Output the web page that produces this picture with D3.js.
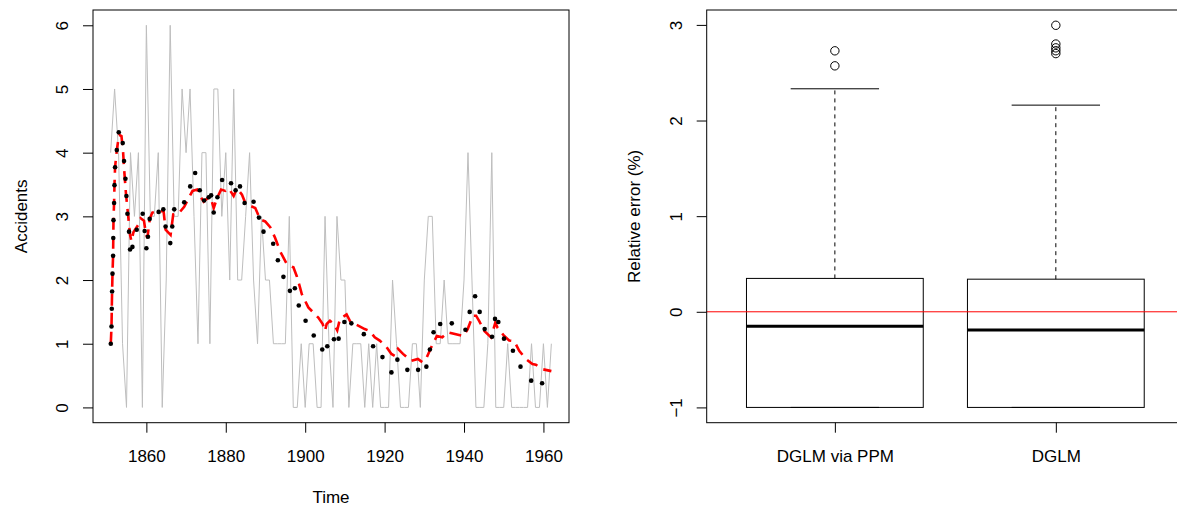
<!DOCTYPE html>
<html lang="en">
<head>
    <meta charset="UTF-8">
    <title>Accidents and relative error</title>
    <script src="https://d3js.org/d3.v7.min.js"></script>
    <style>
        body { margin: 0; padding: 0; background: #fff; }
        svg { display: block; }
        text { font-family: "Liberation Sans", Arial, sans-serif; font-size: 17px; fill: #000; }
    </style>
</head>
<body>
<script>
    // --- left panel: yearly counts 1851-1962
    var years = d3.range(1851, 1963);
    var counts = [4, 5, 4, 1, 0, 4, 3, 4, 0, 6, 3, 3, 4, 0, 2, 6, 3, 3, 5, 4,
        5, 3, 1, 4, 4, 1, 5, 5, 3, 4, 2, 5, 2, 2, 3, 4, 2, 1, 3, 2,
        2, 1, 1, 1, 1, 3, 0, 0, 1, 0, 1, 1, 0, 0, 3, 1, 0, 3, 2, 2,
        0, 1, 1, 1, 0, 1, 0, 1, 0, 0, 0, 2, 1, 0, 0, 0, 1, 1, 0, 2,
        3, 3, 1, 1, 2, 1, 1, 1, 1, 2, 4, 2, 0, 0, 0, 1, 4, 0, 0, 0,
        1, 0, 0, 0, 0, 0, 1, 0, 0, 1, 0, 1];

    // black dots (estimates)
    var dotYears = [1851.04, 1851.22, 1851.29, 1851.37, 1851.47, 1851.62, 1851.67, 1851.72, 1851.87, 1851.97,
        1852.12, 1852.55, 1853.05, 1854.05, 1854.38, 1854.73, 1854.98, 1855.23, 1855.63, 1855.89,
        1856.49, 1857.57, 1859.07, 1859.57, 1860.0, 1860.4, 1860.83, 1863.09, 1864.27, 1864.84,
        1866.02, 1866.52, 1867.02, 1869.53, 1871.04, 1872.29, 1873.45, 1874.55, 1875.7, 1876.31,
        1876.96, 1877.89, 1879.07, 1881.32, 1882.48, 1883.58, 1884.74, 1887.0, 1888.35, 1889.5,
        1891.94, 1893.12, 1894.52, 1896.15, 1897.4, 1898.38, 1900.1, 1902.15, 1904.3, 1905.56,
        1907.24, 1908.42, 1909.87, 1911.63, 1914.77, 1917.1, 1919.46, 1921.72, 1923.22, 1925.73,
        1928.44, 1930.52, 1931.4, 1932.33, 1934.0, 1936.92, 1940.36, 1941.43, 1942.79, 1943.94,
        1945.2, 1947.06, 1947.81, 1948.64, 1950.07, 1952.32, 1954.23, 1956.91, 1959.67];
    var dotValues = [1.0, 1.27, 1.55, 1.82, 2.1, 2.38, 2.66, 2.94, 3.21, 3.49,
        3.77, 4.04, 4.32, 4.15, 3.87, 3.59, 3.32, 3.04, 2.76, 2.48,
        2.52, 2.79, 3.04, 2.77, 2.5, 2.68, 2.96, 3.07, 3.11, 2.84,
        2.58, 2.84, 3.11, 3.22, 3.47, 3.68, 3.41, 3.25, 3.3, 3.33,
        3.06, 3.3, 3.57, 3.52, 3.41, 3.47, 3.21, 3.23, 2.98, 2.76,
        2.57, 2.31, 2.05, 1.83, 1.87, 1.6, 1.36, 1.13, 0.91, 0.96,
        1.07, 1.08, 1.34, 1.32, 1.15, 0.96, 0.79, 0.55, 0.75, 0.59,
        0.59, 0.64, 0.91, 1.18, 1.31, 1.32, 1.22, 1.5, 1.745, 1.5,
        1.23, 1.11, 1.39, 1.34, 1.08, 0.89, 0.64, 0.42, 0.38];

    // red dashed line
    var lineYears = [1851.04, 1851.22, 1851.29, 1851.37, 1851.47, 1851.62, 1851.67, 1851.72, 1851.87, 1851.97,
        1852.12, 1852.55, 1853.13, 1853.73, 1854.13, 1854.38, 1854.88, 1855.38, 1855.89, 1856.24,
        1856.74, 1857.99, 1858.57, 1859.4, 1859.82, 1860.25, 1860.9, 1861.51, 1862.76, 1864.34,
        1864.84, 1866.1, 1866.77, 1868.18, 1869.53, 1870.69, 1871.62, 1872.79, 1873.62, 1874.45,
        1874.88, 1876.13, 1876.96, 1877.81, 1878.82, 1879.89, 1880.72, 1881.98, 1882.83, 1884.08,
        1884.91, 1885.99, 1887.42, 1888.68, 1889.93, 1891.19, 1892.44, 1893.7, 1895.37, 1897.03,
        1897.88, 1898.71, 1899.14, 1900.79, 1902.05, 1903.3, 1904.41, 1904.98, 1905.41, 1906.24,
        1907.24, 1908.07, 1908.75, 1910.43, 1911.26, 1912.51, 1915.0, 1916.26, 1917.51, 1918.77,
        1920.46, 1921.72, 1922.54, 1923.37, 1924.63, 1926.73, 1928.39, 1929.49, 1930.65, 1932.15,
        1933.16, 1934.51, 1935.92, 1937.17, 1939.86, 1940.93, 1942.19, 1943.04, 1943.87, 1945.12,
        1946.8, 1947.88, 1948.46, 1950.14, 1951.39, 1952.65, 1953.9, 1955.58, 1957.24, 1958.09,
        1959.75, 1962.0];
    var lineValues = [1.0, 1.27, 1.55, 1.82, 2.1, 2.38, 2.66, 2.94, 3.21, 3.49,
        3.77, 4.04, 4.28, 4.26, 4.02, 3.76, 3.34, 3.03, 2.71, 2.61,
        2.75, 2.87, 2.97, 2.93, 2.75, 2.66, 2.97, 3.06, 3.08, 3.08,
        2.79, 2.71, 3.03, 3.05, 3.15, 3.29, 3.4, 3.42, 3.31, 3.23,
        3.26, 3.31, 3.13, 3.29, 3.42, 3.4, 3.44, 3.32, 3.44, 3.34,
        3.21, 3.17, 3.13, 2.95, 2.92, 2.83, 2.66, 2.45, 2.25, 2.2,
        2.06, 1.88, 1.78, 1.57, 1.49, 1.41, 1.31, 1.2, 1.31, 1.36,
        1.31, 1.21, 1.39, 1.46, 1.36, 1.31, 1.23, 1.2, 1.1, 1.05,
        0.95, 0.84, 0.81, 0.92, 0.84, 0.73, 0.76, 0.71, 0.79, 1.0,
        1.12, 1.1, 1.18, 1.16, 1.12, 1.23, 1.44, 1.44, 1.35, 1.2,
        1.1, 1.33, 1.25, 1.12, 1.05, 1.04, 0.89, 0.76, 0.68, 0.67,
        0.6, 0.57];

    var yTicksLeft = [0, 1, 2, 3, 4, 5, 6];
    var xTicksLeft = [1860, 1880, 1900, 1920, 1940, 1960];

    // --- right panel: boxplots of relative error
    var boxNames = ["DGLM via PPM", "DGLM"];
    var boxLow = [-1, -1];
    var boxQ1 = [-1, -1];
    var boxMedian = [-0.152, -0.191];
    var boxQ3 = [0.349, 0.341];
    var boxHigh = [2.332, 2.161];
    var outliers = [[2.572, 2.729], [2.70, 2.73, 2.76, 2.80, 2.996]];
    var yTicksRight = [-1, 0, 1, 2, 3];

    var W = 1177, H = 506;
    var svg = d3.select("body").append("svg").attr("width", W).attr("height", H);

    // R-style padding: 4% each side
    function pad(lo, hi) { var d = (hi - lo) * 0.04; return [lo - d, hi + d]; }

    // ---------- left panel ----------
    var L = { left: 93, right: 569, top: 10, bottom: 422.7 };
    var x1 = d3.scaleLinear().domain(pad(1851, 1962)).range([L.left, L.right]);
    var y1 = d3.scaleLinear().domain(pad(0, 6)).range([L.bottom, L.top]);

    var g1 = svg.append("g");
    g1.append("path")
        .datum(years)
        .attr("fill", "none")
        .attr("stroke", "#bebebe")
        .attr("stroke-width", 1)
        .attr("d", d3.line().x(function(d) { return x1(d); })
            .y(function(d, i) { return y1(counts[i]); }));

    g1.append("path")
        .datum(lineYears)
        .attr("fill", "none")
        .attr("stroke", "#ff0000")
        .attr("stroke-width", 2.6)
        .attr("stroke-dasharray", "12,7")
        .attr("d", d3.line().x(function(d) { return x1(d); })
            .y(function(d, i) { return y1(lineValues[i]); }));

    g1.selectAll("circle.dot")
        .data(dotYears)
        .enter().append("circle")
        .attr("class", "dot")
        .attr("cx", function(d) { return x1(d); })
        .attr("cy", function(d, i) { return y1(dotValues[i]); })
        .attr("r", 2.3)
        .attr("fill", "#000");

    g1.append("rect")
        .attr("x", L.left).attr("y", L.top)
        .attr("width", L.right - L.left).attr("height", L.bottom - L.top)
        .attr("fill", "none").attr("stroke", "#000").attr("stroke-width", 1);

    var axL = g1.append("g").attr("transform", "translate(" + L.left + ",0)")
        .call(d3.axisLeft(y1).tickValues(yTicksLeft).tickFormat(d3.format("d")).tickSize(10).tickSizeOuter(0));
    var axB = g1.append("g").attr("transform", "translate(0," + L.bottom + ")")
        .call(d3.axisBottom(x1).tickValues(xTicksLeft).tickFormat(d3.format("d")).tickSize(10).tickSizeOuter(0).tickPadding(17));

    g1.append("text")
        .attr("transform", "translate(" + (L.left - 66.5) + "," + ((L.top + L.bottom) / 2) + ") rotate(-90)")
        .attr("text-anchor", "middle")
        .text("Accidents");
    g1.append("text")
        .attr("x", (L.left + L.right) / 2).attr("y", L.bottom + 80.6)
        .attr("text-anchor", "middle")
        .text("Time");

    // ---------- right panel ----------
    var R = { left: 706.7, right: 1184, top: 10, bottom: 422.7 };
    var x2 = d3.scaleLinear().domain(pad(0.5, 2.5)).range([R.left, R.right]);
    var y2 = d3.scaleLinear().domain(pad(-1, 2.996)).range([R.bottom, R.top]);

    var g2 = svg.append("g");
    var boxW = 0.8, capW = 0.4;

    boxNames.forEach(function(name, i) {
        var c = i + 1;
        var b = g2.append("g");
        // whiskers
        b.append("line").attr("x1", x2(c)).attr("x2", x2(c))
            .attr("y1", y2(boxQ3[i])).attr("y2", y2(boxHigh[i]))
            .attr("stroke", "#000").attr("stroke-dasharray", "4,4");
        b.append("line").attr("x1", x2(c)).attr("x2", x2(c))
            .attr("y1", y2(boxQ1[i])).attr("y2", y2(boxLow[i]))
            .attr("stroke", "#000").attr("stroke-dasharray", "4,4");
        b.append("line").attr("x1", x2(c - capW / 2)).attr("x2", x2(c + capW / 2))
            .attr("y1", y2(boxHigh[i])).attr("y2", y2(boxHigh[i])).attr("stroke", "#000");
        b.append("line").attr("x1", x2(c - capW / 2)).attr("x2", x2(c + capW / 2))
            .attr("y1", y2(boxLow[i])).attr("y2", y2(boxLow[i])).attr("stroke", "#000");
        // box
        b.append("rect")
            .attr("x", x2(c - boxW / 2)).attr("y", y2(boxQ3[i]))
            .attr("width", x2(c + boxW / 2) - x2(c - boxW / 2))
            .attr("height", y2(boxQ1[i]) - y2(boxQ3[i]))
            .attr("fill", "none").attr("stroke", "#000").attr("stroke-width", 1);
        b.append("line")
            .attr("x1", x2(c - boxW / 2)).attr("x2", x2(c + boxW / 2))
            .attr("y1", y2(boxMedian[i])).attr("y2", y2(boxMedian[i]))
            .attr("stroke", "#000").attr("stroke-width", 3);
        b.selectAll("circle").data(outliers[i]).enter().append("circle")
            .attr("cx", x2(c)).attr("cy", function(d) { return y2(d); })
            .attr("r", 4.2).attr("fill", "none").attr("stroke", "#000").attr("stroke-width", 1);
    });

    // reference line at zero
    g2.append("line")
        .attr("x1", R.left).attr("x2", R.right)
        .attr("y1", y2(0)).attr("y2", y2(0))
        .attr("stroke", "#ff0000").attr("stroke-width", 1);

    g2.append("rect")
        .attr("x", R.left).attr("y", R.top)
        .attr("width", R.right - R.left).attr("height", R.bottom - R.top)
        .attr("fill", "none").attr("stroke", "#000").attr("stroke-width", 1);

    var axL2 = g2.append("g").attr("transform", "translate(" + R.left + ",0)")
        .call(d3.axisLeft(y2).tickValues(yTicksRight).tickFormat(function(d) { return d < 0 ? "\u2212" + Math.abs(d) : d; })
            .tickSize(10).tickSizeOuter(0));
    var axB2 = g2.append("g").attr("transform", "translate(0," + R.bottom + ")")
        .call(d3.axisBottom(x2).tickValues([1, 2]).tickFormat(function(d) { return boxNames[d - 1]; })
            .tickSize(10).tickSizeOuter(0).tickPadding(17));

    g2.append("text")
        .attr("transform", "translate(" + (R.left - 66.7) + "," + ((R.top + R.bottom) / 2) + ") rotate(-90)")
        .attr("text-anchor", "middle")
        .text("Relative error (%)");

    // R look: no domain line, rotated y labels
    [axL, axB, axL2, axB2].forEach(function(a) {
        a.select(".domain").remove();
        a.selectAll(".tick line").attr("stroke", "#000");
        a.selectAll(".tick text").attr("fill", "#000")
            .style("font-family", "'Liberation Sans', Arial, sans-serif").style("font-size", "17px");
    });
    [axL, axL2].forEach(function(a) {
        a.selectAll(".tick text")
            .attr("transform", "rotate(-90)")
            .attr("x", 0).attr("y", -24.6).attr("dy", 0)
            .attr("text-anchor", "middle");
    });
</script>
</body>
</html>
